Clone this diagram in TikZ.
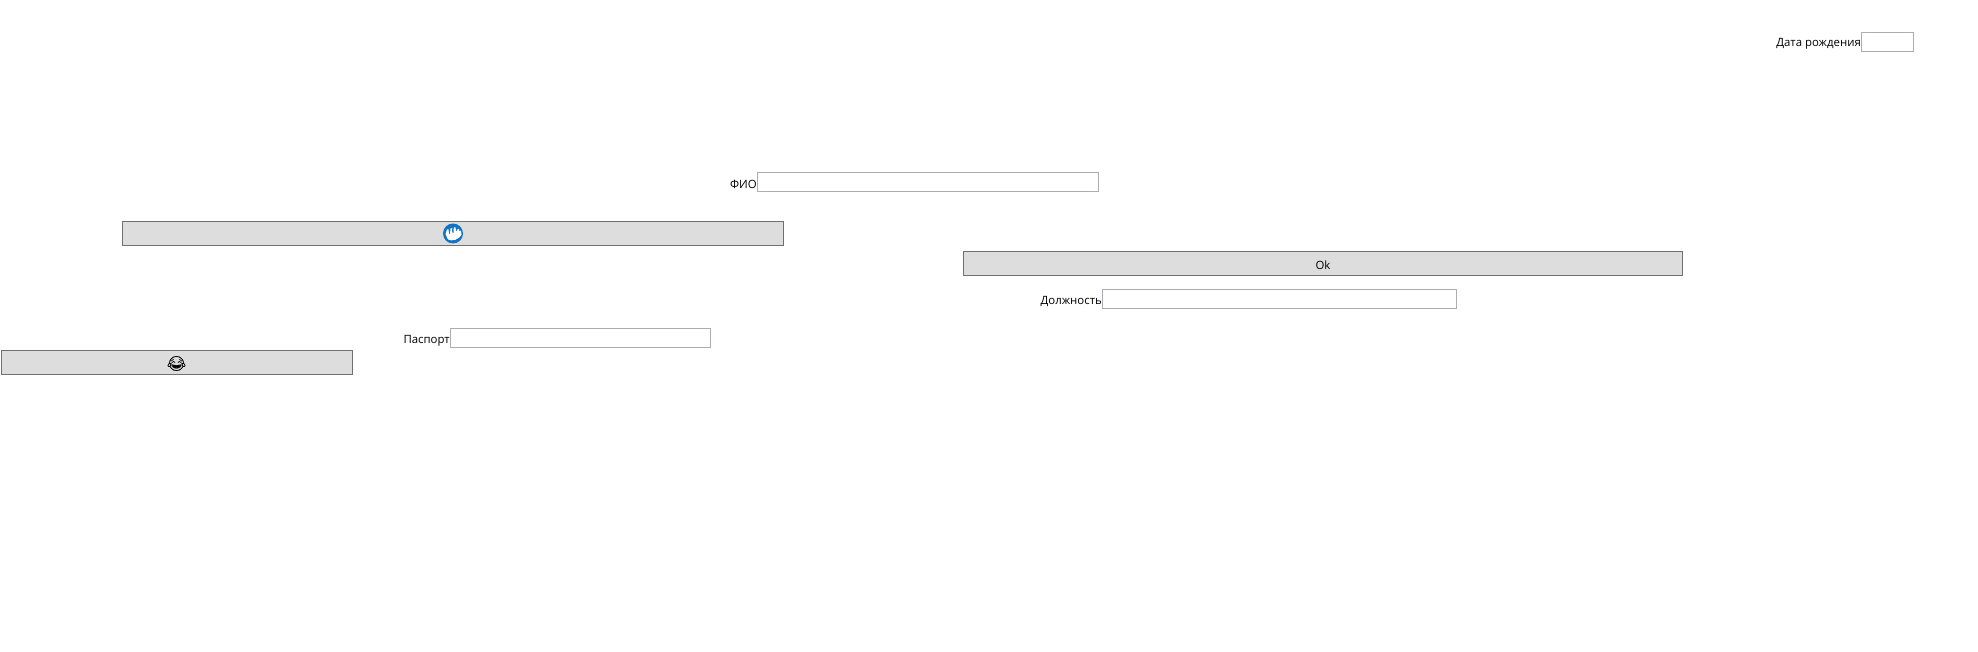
\documentclass[tikz,border=0pt]{standalone}
\usepackage{fontspec}
\setmainfont{Open Sans}
\newfontfamily\emojifont[FakeBold=0.8]{Noto Emoji}
\definecolor{btnfill}{HTML}{DDDDDD}
\definecolor{btnline}{HTML}{707070}
\definecolor{boxline}{HTML}{ABADB3}
\definecolor{iconblue}{HTML}{0F73C6}
\tikzset{
  x=1pt,y=-1pt,
  btn/.style={draw=btnline,line width=1pt,fill=btnfill},
  field/.style={draw=boxline,line width=1pt,fill=white},
  lbl/.style={anchor=east,inner sep=0pt,font=\fontsize{11.4}{14}\selectfont,text=black},
  btntext/.style={inner sep=0pt,font=\fontsize{11.4}{14}\selectfont,text=black}
}
\begin{document}
\begin{tikzpicture}
\useasboundingbox (0,0) rectangle (1978,652);
\fill[white] (0,0) rectangle (1978,652);
% buttons
\draw[btn] (122.5,221.5) rectangle (783.5,245.5);
\draw[btn] (1.5,350.5) rectangle (352.5,374.5);
\draw[btn] (963.5,251.5) rectangle (1682.5,275.5);
\node[btntext] (oktext) at (1323,265.5) {Ok};
% fields
\draw[field] (757.5,172.5) rectangle (1098.5,191.5);
\draw[field] (1102.5,289.5) rectangle (1456.5,308.5);
\draw[field] (450.5,328.5) rectangle (710.5,347.5);
\draw[field] (1861.5,32.5) rectangle (1913.5,51.5);
% labels
\node[lbl] (fio) at (757,184) {ФИО};
\node[lbl] (dolzh) at (1102,301.5) {Должность};
\node[lbl] (pasp) at (450,340.5) {Паспорт};
\node[lbl] (data) at (1861,44) {Дата рождения};
% blue icon
\fill[iconblue] (453,233.5) circle (10);
\fill[white] (445.5,234) -- (447,229.5) -- (448.5,229.5) -- (449,234) -- (450,234) -- (450.5,228.5) -- (452,228) -- (452.3,233) -- (453.5,233) -- (453.8,227.5) -- (455.5,227.5) -- (456,231) -- (457,231) -- (457.5,229) -- (459,229) -- (459.5,231.5) -- (461,230.5) -- (461.5,234.5) .. controls (459.5,240) and (451,241.5) .. (448,239.5) -- cycle;
% emoji
\node[inner sep=0pt,font=\emojifont\fontsize{14.5}{14.5}\selectfont] (emoji) at (176.5,363.5) {😂};
\end{tikzpicture}
\end{document}
